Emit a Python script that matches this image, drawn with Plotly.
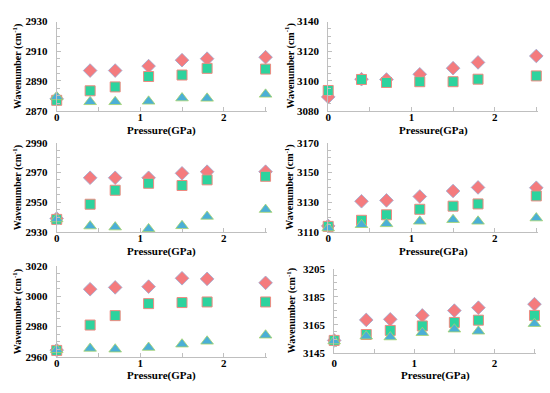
import plotly.graph_objects as go

pressure = [0, 0.4, 0.7, 1.1, 1.5, 1.8, 2.5]

# panel values (diamond / square / triangle series)
p1_diamond = [2878, 2897, 2897, 2900, 2904, 2905, 2906]
p1_square = [2877, 2883.4, 2886, 2893, 2894, 2898.5, 2898]
p1_triangle = [2879.3, 2876, 2876, 2876.3, 2878.5, 2878.3, 2881]

p2_diamond = [3089.3, 3101.2, 3101, 3104.5, 3108.6, 3112.5, 3116.8]
p2_square = [3093.6, 3101, 3099, 3099.5, 3099.5, 3101.2, 3103.4]

p3_diamond = [2939, 2966.4, 2966.4, 2966.4, 2969.4, 2970.5, 2970.5]
p3_square = [2938.4, 2948.6, 2958, 2962.7, 2961.2, 2965, 2967.4]
p3_triangle = [2938.7, 2933.9, 2933.2, 2932, 2934.1, 2940.4, 2945]

p4_diamond = [3114, 3130.6, 3131.2, 3133.8, 3137.5, 3139.9, 3139.7]
p4_square = [3113.7, 3117.8, 3121.5, 3125.2, 3127.3, 3128.8, 3134.2]
p4_triangle = [3112.6, 3114.8, 3115.4, 3117.1, 3118.2, 3117.1, 3119.3]

p5_diamond = [2964.5, 3004.6, 3005.8, 3006.3, 3011.8, 3011.4, 3008.8]
p5_square = [2964.3, 2981, 2987.2, 2995.1, 2995.8, 2996.2, 2996.2]
p5_triangle = [2964.7, 2965.6, 2965.1, 2966.2, 2968.4, 2970.3, 2974.3]

p6_diamond = [3154, 3168.6, 3169, 3171.8, 3175.2, 3177.3, 3179.8]
p6_square = [3154, 3158.2, 3161.1, 3164.3, 3166.8, 3168.4, 3171.8]
p6_triangle = [3153.6, 3157, 3156.4, 3159.5, 3162, 3160.5, 3165.9]

y_ranges = [[2870, 2930], [3080, 3140], [2930, 2990], [3110, 3170], [2960, 3020], [3145, 3205]]
y_dticks = [20, 20, 20, 20, 20, 20]
x_ticks = [0, 1, 2]
x_title = "Pressure(GPa)"
y_title = "Wavenumber (cm<sup>-1</sup>)"

panels = [
    (p1_diamond, p1_square, p1_triangle),
    (p2_diamond, p2_square, None),
    (p3_diamond, p3_square, p3_triangle),
    (p4_diamond, p4_square, p4_triangle),
    (p5_diamond, p5_square, p5_triangle),
    (p6_diamond, p6_square, p6_triangle),
]

W, H = 550, 393
# pixel layout: (x0, x1, ytop, ybottom)
boxes = [
    (54, 265.7, 16, 108),
    (327, 537.9, 16, 108),
    (54, 265.7, 141, 233),
    (327, 537.9, 141, 233),
    (54, 265.7, 268, 362),
    (333, 536, 271, 358),
]
ytitle_x = [14, 288, 14, 288, 14, 290]
xtitle_gap = [20, 20, 20, 20, 19.5, 23]
xlabel_standoff = [-4, -4, -4, -4, -4, 0]

FONT = "Liberation Serif"
axis_col = "#BFBFBF"

fig = go.Figure()
layout = dict(
    width=W, height=H, margin=dict(l=0, r=0, t=0, b=0),
    paper_bgcolor="white", plot_bgcolor="white", showlegend=False,
    font=dict(family=FONT, color="black"),
)
annotations = []

diamond_style = dict(symbol="diamond", size=10.5, color="#F47B7E", line=dict(color="#9AAAD2", width=0.8))
square_style = dict(symbol="square", size=10, color="#2DD39E", line=dict(color="#EE8A80", width=1))
tri_style = dict(symbol="triangle-up", size=11, color="#4BAFD6", line=dict(color="#A8D46C", width=0.8))

for i, (dia, sq, tri) in enumerate(panels):
    n = i + 1
    xa = "x" if n == 1 else f"x{n}"
    ya = "y" if n == 1 else f"y{n}"
    fig.add_trace(go.Scatter(x=pressure, y=dia, mode="markers", marker=diamond_style,
                             xaxis=xa, yaxis=ya, cliponaxis=False))
    fig.add_trace(go.Scatter(x=pressure, y=sq, mode="markers", marker=square_style,
                             xaxis=xa, yaxis=ya, cliponaxis=False))
    if tri is not None:
        fig.add_trace(go.Scatter(x=pressure, y=tri, mode="markers", marker=tri_style,
                                 xaxis=xa, yaxis=ya, cliponaxis=False))
    x0, x1, yt, yb = boxes[i]
    xkey = "xaxis" if n == 1 else f"xaxis{n}"
    ykey = "yaxis" if n == 1 else f"yaxis{n}"
    layout[xkey] = dict(
        domain=[x0 / W, x1 / W], anchor=ya, range=[0, 2.52],
        tickvals=x_ticks, ticks="inside", ticklen=4, tickcolor=axis_col,
        minor=dict(dtick=0.5, tick0=0, ticks="inside", ticklen=4, tickcolor=axis_col),
        showline=True, linecolor=axis_col, linewidth=1, showgrid=False, zeroline=False,
        tickfont=dict(family=FONT, size=11, weight="bold"), ticklabelstandoff=xlabel_standoff[i],
        fixedrange=True,
    )
    layout[ykey] = dict(
        domain=[1 - yb / H, 1 - yt / H], anchor=xa, range=y_ranges[i],
        dtick=y_dticks[i], tick0=y_ranges[i][0], ticks="inside", ticklen=4, tickcolor=axis_col,
        minor=dict(dtick=5, ticks="inside", ticklen=3, tickcolor=axis_col),
        showline=True, linecolor=axis_col, linewidth=1, showgrid=False, zeroline=False,
        tickfont=dict(family=FONT, size=11, weight="bold"), ticklabelstandoff=6,
        fixedrange=True,
    )
    # x title
    annotations.append(dict(
        text=f"<b>{x_title}</b>", x=(x0 + (x1 - x0) / 2) / W, y=1 - (yb + xtitle_gap[i]) / H,
        xref="paper", yref="paper", showarrow=False, xanchor="center", yanchor="middle",
        font=dict(family=FONT, size=11),
    ))
    # y title
    annotations.append(dict(
        text=f"<b>{y_title}</b>", x=ytitle_x[i] / W, y=1 - ((yt + yb) / 2) / H,
        xref="paper", yref="paper", showarrow=False, xanchor="center", yanchor="middle",
        textangle=-90, font=dict(family=FONT, size=10),
    ))

layout["annotations"] = annotations
fig.update_layout(**layout)
fig.write_html("out.html", config={"displayModeBar": False},
               post_script="document.body.style.margin='0';document.body.style.padding='0';")
